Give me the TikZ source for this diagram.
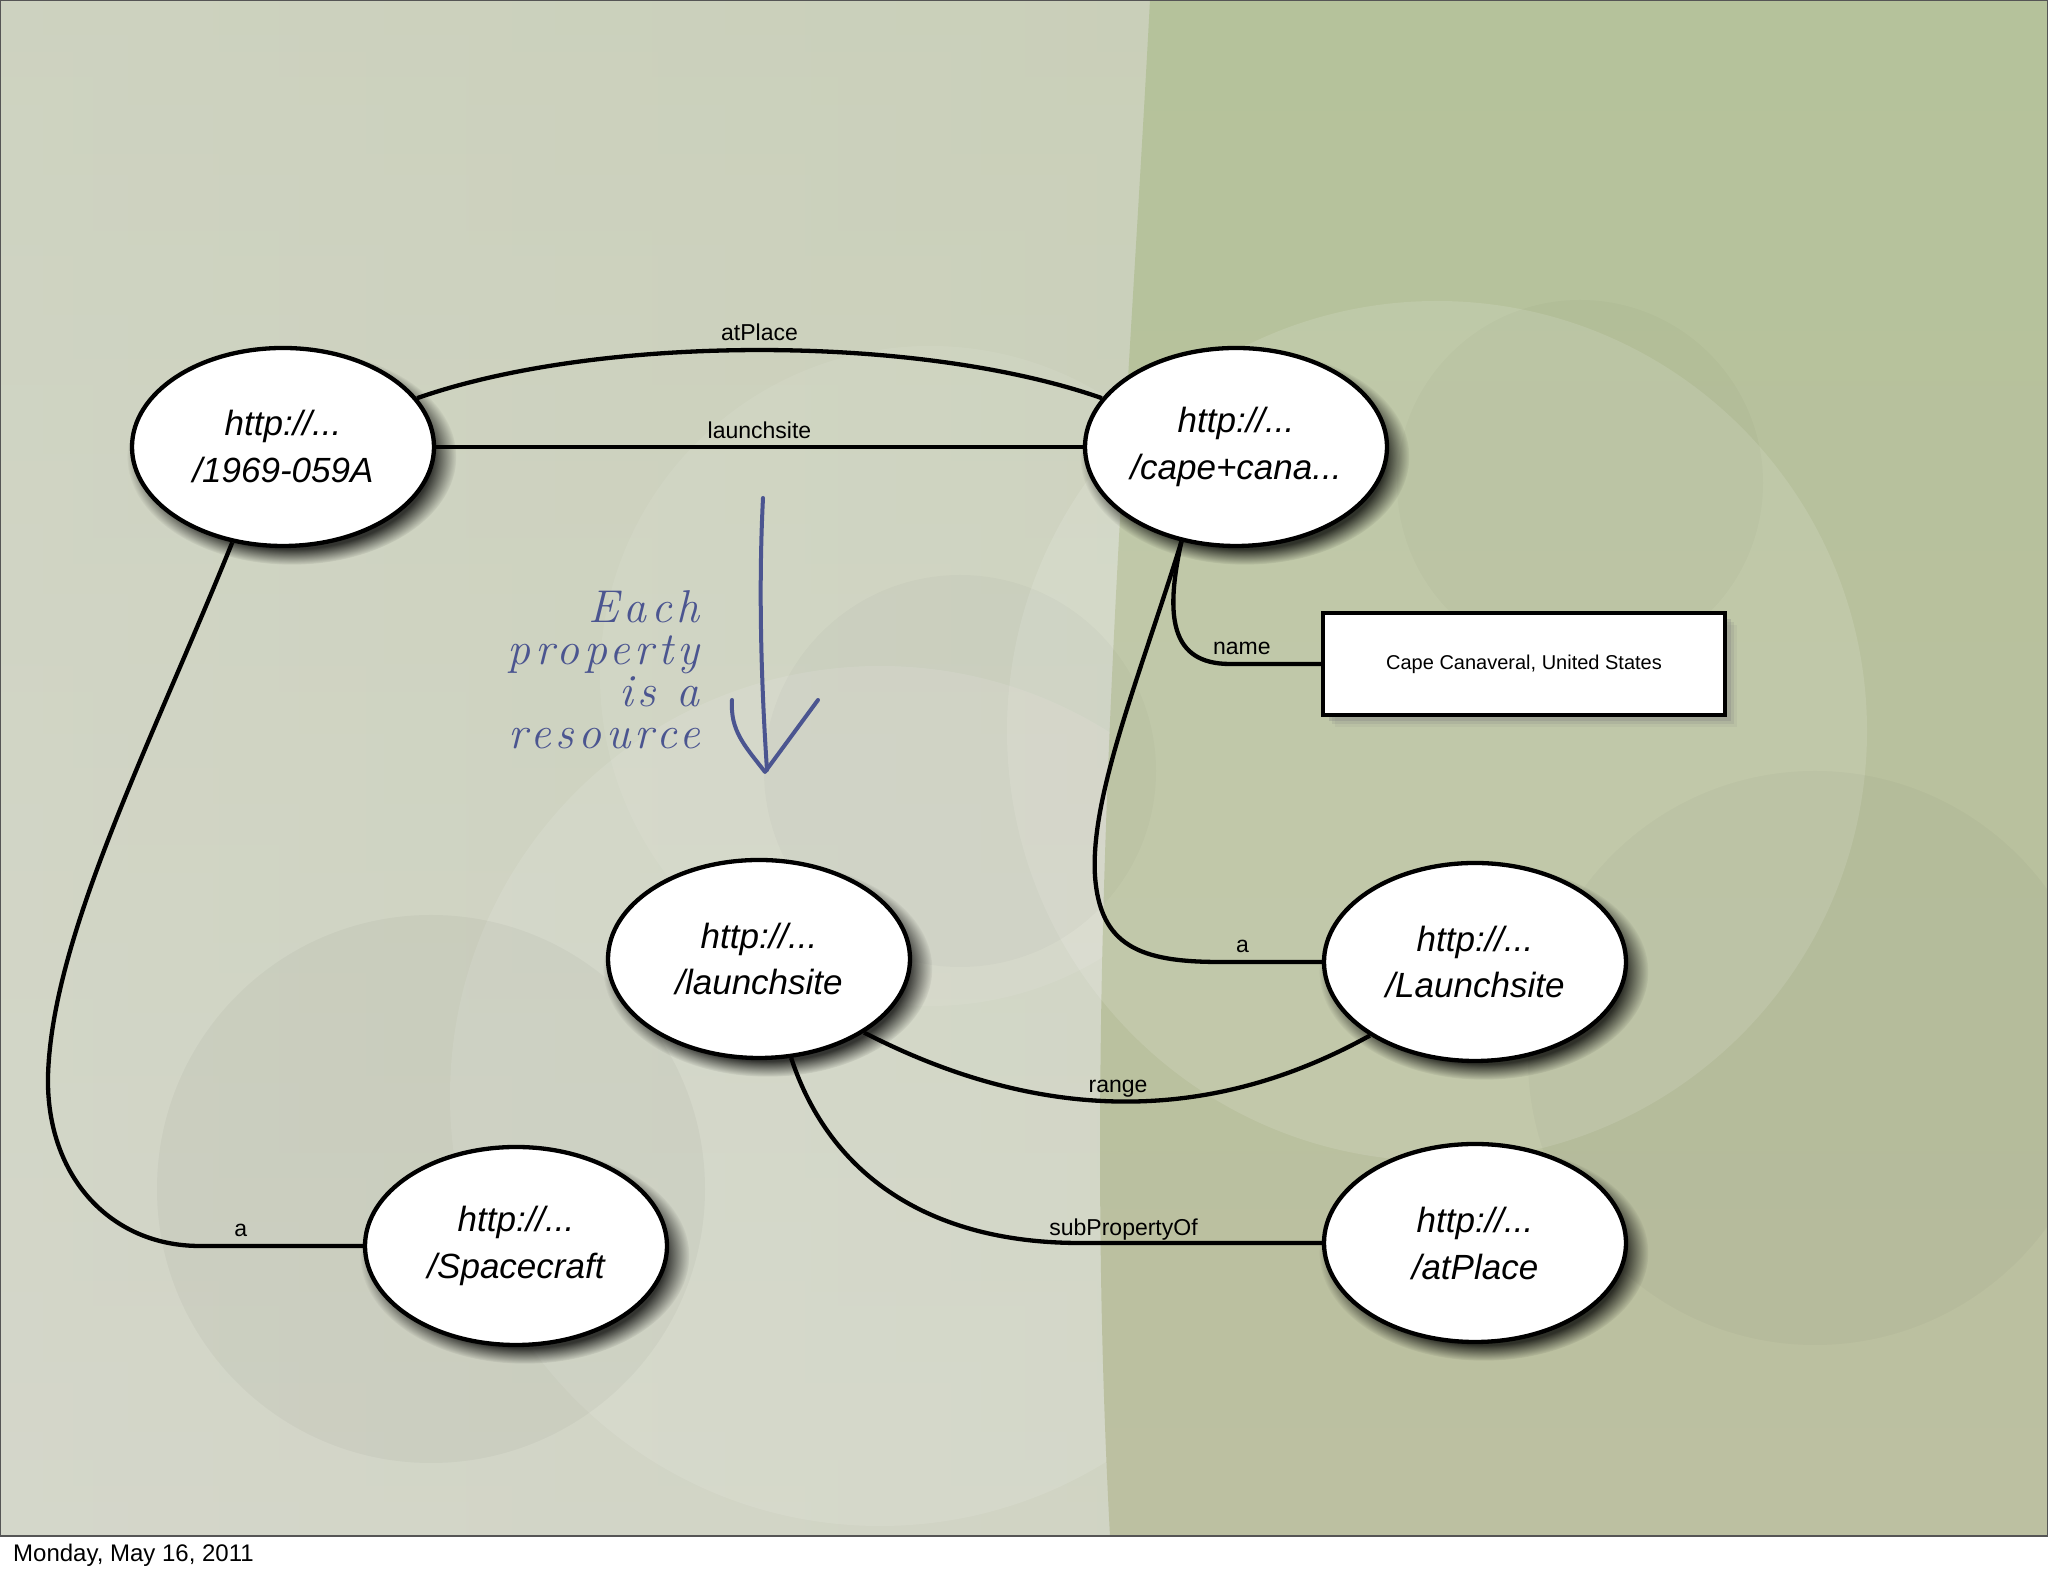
\documentclass[tikz,border=0pt]{standalone}
\usepackage{fontspec}
\setmainfont{Liberation Sans}
\newfontfamily\handfont{Latin Modern Roman}[LetterSpace=10]
\usetikzlibrary{shapes.geometric,shadows}
\definecolor{bgTop}{HTML}{C9CFBA}
\definecolor{bgBot}{HTML}{D8D9D0}
\definecolor{bgL}{HTML}{D2D6C6}
\definecolor{bgR}{HTML}{C4CBAE}
\definecolor{greenTop}{HTML}{B5C29B}
\definecolor{greenBot}{HTML}{BCC0A1}
\definecolor{handcol}{HTML}{4B5590}
\definecolor{frame}{HTML}{555555}
\tikzset{
  res/.style={ellipse, draw=black, line width=4.3pt, fill=white,
    minimum width=302pt, minimum height=198pt, inner sep=0pt, align=center,
    font=\fontsize{35}{47}\selectfont\itshape,
    circular drop shadow={shadow xshift=8pt, shadow yshift=-9pt, shadow scale=1.09, opacity=.75, fill=black}},
  lit/.style={rectangle, draw=black, line width=4.3pt, fill=white,
    minimum width=402pt, minimum height=102pt, inner sep=0pt,
    font=\fontsize{20}{24}\selectfont,
    drop shadow={shadow xshift=12pt, shadow yshift=-12pt, opacity=.10},
    drop shadow={shadow xshift=9pt, shadow yshift=-9pt, opacity=.18},
    drop shadow={shadow xshift=6pt, shadow yshift=-6pt, opacity=.30}},
  conn/.style={line width=4.3pt, black},
  lab/.style={font=\fontsize{23}{26}\selectfont, anchor=base, inner sep=0pt},
  handline/.style={handcol, line width=4pt, line cap=round, line join=round},
  hand/.style={handcol, align=right, inner sep=0pt, font=\handfont\itshape\fontsize{46}{42}\selectfont}
}
\begin{document}
\begin{tikzpicture}[x=1pt,y=1pt]
\useasboundingbox (0,0) rectangle (2048,1576);
% background
\fill[white] (0,0) rectangle (2048,1576);
\shade[top color=bgTop, bottom color=bgBot] (0,40) rectangle (2048,1576);
\shade[left color=bgL, right color=bgR, opacity=.5] (0,40) rectangle (2048,1576);
\fill[white, opacity=.10] (880,480) circle (430);
\fill[white, opacity=.07] (930,900) circle (330);
\shade[top color=greenTop, bottom color=greenBot]
  (1150,1576) .. controls (1125,1100) and (1080,600) .. (1110,40) -- (2048,40) -- (2048,1576) -- cycle;
\fill[white, opacity=.12] (1437,845) circle (430);
\fill[black, opacity=.02] (960,805) circle (196);
\fill[black, opacity=.03] (431,387) circle (274);
\fill[black, opacity=.02] (1580,1093) circle (183);
\fill[black, opacity=.025] (1815,518) circle (287);
\draw[frame, line width=2.5pt] (0,40) rectangle (2048,1576);

% nodes
\node[res] (A) at (283,1129) {http://...\\/1969-059A};
\node[res] (B) at (1236,1129) {http://...\\/cape+cana...};
\node[res] (C) at (759,617) {http://...\\/launchsite};
\node[res] (D) at (1475,614) {http://...\\/Launchsite};
\node[res] (E) at (516,330) {http://...\\/Spacecraft};
\node[res] (F) at (1475,333) {http://...\\/atPlace};
\node[lit] (R) at (1524,912) {Cape Canaveral, United States};

% connectors
\draw[conn] (A.20) .. controls (600,1242) and (919,1242) .. (B.160)
  node[lab, midway, yshift=10pt] {atPlace};
\draw[conn] (A) -- (B) node[lab, midway, yshift=8pt] {launchsite};
\draw[conn] (A.242) .. controls (150,830) and (52,640) .. (48,500)
  .. controls (46,400) and (110,330) .. (200,330)
  -- node[lab, pos=0.25, yshift=9pt] {a} (E.west);
\draw[conn] (B.240) .. controls (1165,960) and (1170,912) .. (1230,912)
  -- node[lab, pos=0.13, yshift=9pt] {name} (R.west);
\draw[conn] (B.240) .. controls (1140,900) and (1090,780) .. (1095,700)
  .. controls (1100,630) and (1140,614) .. (1220,614)
  -- node[lab, pos=0.22, yshift=9pt] {a} (D.west);
\draw[conn] (C.-35) .. controls (1034,456) and (1203,448) .. (D.215)
  node[lab, midway, yshift=9pt] {range};
\draw[conn] (C.-72) .. controls (830,400) and (930,333) .. (1080,333)
  -- node[lab, pos=0.18, yshift=7pt] {subPropertyOf} (F.west);

% handwritten note and arrow
\node[hand, anchor=east] (note) at (700,906) {Each\\property\\is a\\resource};
\draw[handline] (763,1078) .. controls (758,980) and (762,880) .. (767,806);
\draw[handline] (732,876) .. controls (730,845) and (745,830) .. (765,804) -- (818,876);

% date
\node[font=\fontsize{24}{28}\selectfont, anchor=base west, inner sep=0pt] (date) at (13,14) {Monday, May 16, 2011};
\end{tikzpicture}
\end{document}
